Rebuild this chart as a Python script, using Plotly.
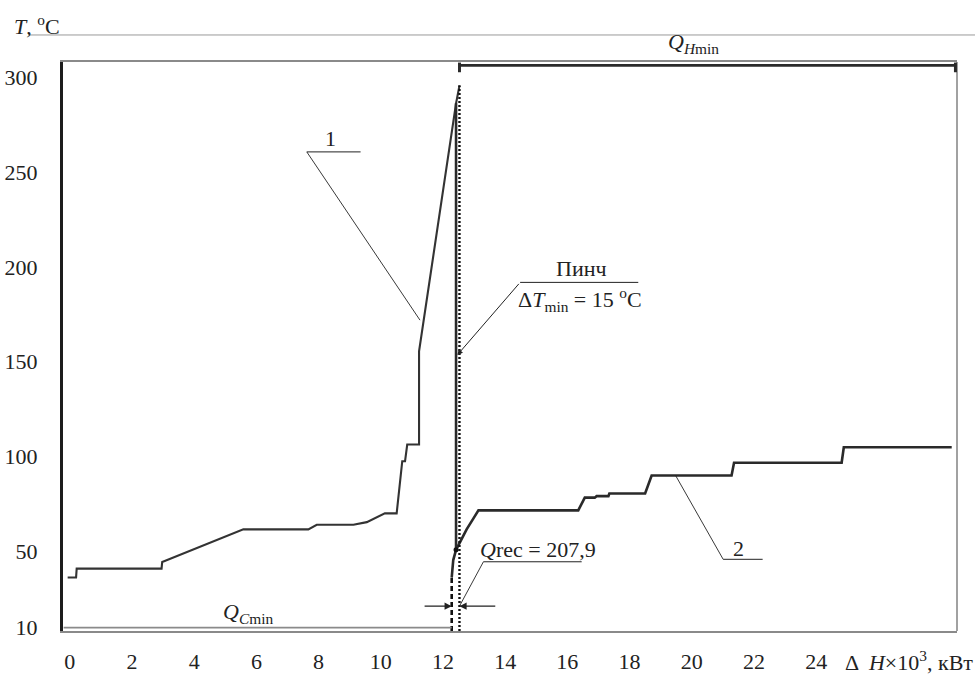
import plotly.graph_objects as go
import numpy as np

FONT = "'Liberation Serif', 'Times New Roman', Times, 'DejaVu Serif', serif"
INK = "#222222"
FS = 22

# ---------------- data ----------------
# curve 1
hot_x = [-0.07, 0.20, 0.22, 2.95, 2.97, 5.58, 7.67, 7.94, 9.12, 9.55, 10.13, 10.51,
         10.69, 10.78, 10.85, 11.23, 11.23, 12.42, 12.53]
hot_T = [36.2, 36.2, 40.9, 40.9, 44.4, 61.6, 61.6, 64.0, 64.0, 65.4, 70.0, 70.0,
         97.5, 97.5, 106.3, 106.3, 155.4, 286.2, 295.5]

# curve 2
cold_x = [12.28, 12.33, 12.42, 12.55, 12.76, 12.98, 13.14, 16.35, 16.50, 16.56, 16.88,
          16.94, 17.32, 17.35, 18.50, 18.62, 18.71, 21.28, 21.36, 24.82, 24.89, 28.36]
cold_T = [36.1, 45.4, 50.8, 55.1, 61.6, 67.4, 71.6, 71.6, 76.0, 78.3, 78.3,
          79.1, 79.1, 80.5, 80.5, 86.0, 90.0, 90.0, 96.7, 96.7, 104.9, 104.9]

# pinch construction lines
pinch_solid_x = [12.42, 12.42]
pinch_solid_T = [50.8, 286.2]
pinch_dotted_x = [12.53, 12.53]
pinch_dotted_T = [8.0, 295.8]
cold_start_x = [12.28, 12.28]
cold_start_T = [8.0, 36.1]

# utility brackets
q_h_min_x = [12.53, 28.48]
q_h_min_T = 306.2
q_c_min_x = [-0.20, 12.28]
q_c_min_T = 9.8
q_rec_T = 21.1
q_rec_value = "207,9"
dT_min = 15

x_ticks = list(range(0, 25, 2))
y_ticks = [10, 50, 100, 150, 200, 250, 300]

X_RANGE = [-0.22, 28.53]
Y_RANGE = [8.0, 308.0]

# ---------------- figure ----------------
fig = go.Figure()

fig.add_trace(go.Scatter(x=hot_x, y=hot_T, mode="lines",
                         line=dict(color="#333333", width=2.1), hoverinfo="skip"))
fig.add_trace(go.Scatter(x=cold_x, y=cold_T, mode="lines",
                         line=dict(color="#2a2a2a", width=2.6), hoverinfo="skip"))
fig.add_trace(go.Scatter(x=pinch_solid_x, y=pinch_solid_T, mode="lines",
                         line=dict(color="#2a2a2a", width=2.6), hoverinfo="skip"))
fig.add_trace(go.Scatter(x=pinch_dotted_x, y=pinch_dotted_T, mode="lines",
                         line=dict(color="#111111", width=2.4, dash="2px,2px"), hoverinfo="skip"))
fig.add_trace(go.Scatter(x=cold_start_x, y=cold_start_T, mode="lines",
                         line=dict(color="#111111", width=2.6, dash="5px,3px"), hoverinfo="skip"))
fig.add_trace(go.Scatter(x=[cold_x[2]], y=[cold_T[2]], mode="markers",
                         marker=dict(color="#111111", size=5), hoverinfo="skip"))

shapes = []


def seg(x0, y0, x1, y1, color=INK, width=1.0, xref="x", yref="y"):
    shapes.append(dict(type="line", xref=xref, yref=yref, x0=x0, y0=y0, x1=x1, y1=y1,
                       line=dict(color=color, width=width)))


# frame: right edge and top thin rule
seg(1, 0, 1, 1, color="#8a8a8a", width=1.6, xref="paper", yref="paper")
seg(-0.039, 1.0475, 1.03, 1.0475, color="#9a9a9a", width=1.0, xref="paper", yref="paper")

# Q_H,min bracket
seg(q_h_min_x[0], q_h_min_T, q_h_min_x[1], q_h_min_T, color="#2a2a2a", width=2.6)
seg(q_h_min_x[0], q_h_min_T + 1.5, q_h_min_x[0], q_h_min_T - 3.6, color="#2a2a2a", width=3)
seg(q_h_min_x[1], q_h_min_T + 1.5, q_h_min_x[1], q_h_min_T - 3.6, color="#2a2a2a", width=3)

# Q_C,min line
seg(q_c_min_x[0], q_c_min_T, q_c_min_x[1], q_c_min_T, color="#8a8a8a", width=1.6)

# leader for "1"
hot_tip_T = 171.9
hot_tip_x = float(np.interp(hot_tip_T, hot_T[16:18], hot_x[16:18])) - 0.12
seg(7.62, 260.6, 9.35, 260.6, width=1.0)
seg(7.62, 260.6, hot_tip_x, hot_tip_T, width=0.9)

# leader for "2"
seg(21.01, 45.8, 22.28, 45.8, width=1.0)
seg(21.01, 45.8, 19.48, cold_T[16], width=0.9)

# Pinch label underline
seg(14.48, 191.8, 18.28, 191.8, width=1.0)

# Qrec underline + leader
seg(13.30, 44.5, 16.46, 44.5, width=1.0)
seg(13.30, 44.5, pinch_dotted_x[0], q_rec_T, width=0.9)

annotations = []


def text(x, y, s, size=FS, xanchor="center", xref="x", yref="y"):
    annotations.append(dict(x=x, y=y, xref=xref, yref=yref, text=s, showarrow=False,
                            xanchor=xanchor, yanchor="middle",
                            font=dict(family=FONT, size=size, color=INK)))


def arrow(xh, yh, xt, yt, width=1.0, size=1.0):
    annotations.append(dict(x=xh, y=yh, ax=xt, ay=yt, xref="x", yref="y", axref="x", ayref="y",
                            text="", showarrow=True, arrowhead=2, arrowsize=size,
                            arrowwidth=width, arrowcolor=INK))


# pinch arrow
arrow(pinch_solid_x[0] + 0.04, 153.5, 14.48, 191.8, width=1.0, size=1.1)
# Qrec dimension arrows
arrow(cold_start_x[0], q_rec_T, 11.36, q_rec_T, width=1.1, size=1.3)
arrow(pinch_dotted_x[0], q_rec_T, 13.73, q_rec_T, width=1.1, size=1.3)

text(8.37, 267.5, "1")
text(21.5, 51.5, "2")
text(16.46, 199.0, "Пинч")
text(16.40, 183.0, "Δ<i>T</i><sub>min</sub> = %d <sup>o</sup>C" % dT_min)
text(15.05, 51.0, "<i>Q</i>rec = " + q_rec_value)
text(20.07, 1.0334, "<i>Q</i><sub><i>H</i>min</sub>", yref="paper")
text(5.73, 17.6, "<i>Q</i><sub><i>C</i>min</sub>")

# axis titles
text(-0.057, 1.065, "<i>T</i>, <sup>o</sup>C", xanchor="left", xref="paper", yref="paper")
text(0.8725, -0.052, "Δ  <i>H</i>×10<sup>3</sup>, кВт", xanchor="left", xref="paper", yref="paper")

fig.update_layout(
    width=975, height=675,
    margin=dict(l=63, r=18, t=62, b=44),
    paper_bgcolor="white", plot_bgcolor="white",
    showlegend=False,
    font=dict(family=FONT, size=FS, color=INK),
    shapes=shapes, annotations=annotations,
)
fig.update_xaxes(range=X_RANGE, tickvals=x_ticks, ticktext=[str(v) for v in x_ticks],
                 showgrid=False, zeroline=False, showline=True, linecolor="#8a8a8a",
                 linewidth=2, mirror=True, ticks="", ticklabelstandoff=10, automargin=False,
                 tickfont=dict(family=FONT, size=FS, color=INK), fixedrange=True)
fig.update_yaxes(range=Y_RANGE, tickvals=y_ticks, ticktext=[str(v) for v in y_ticks],
                 showgrid=False, zeroline=False, showline=True, linecolor="#1c1c1c",
                 linewidth=3, ticks="", ticklabelstandoff=18, automargin=False,
                 tickfont=dict(family=FONT, size=FS, color=INK), fixedrange=True)

fig.write_html("out.html", config={"displayModeBar": False},
               post_script="document.body.style.margin='0';")
